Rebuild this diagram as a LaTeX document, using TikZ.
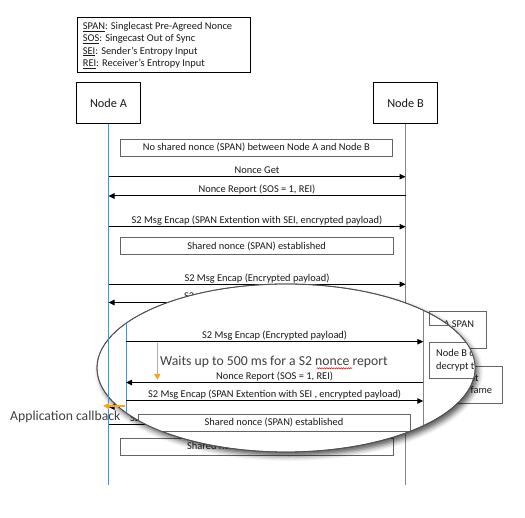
\documentclass[tikz,border=0pt]{standalone}
\usepackage{fontspec}
\setmainfont{Carlito}
\usetikzlibrary{arrows.meta,shadows.blur,decorations.pathmorphing}
\definecolor{lifeblue}{RGB}{91,140,205}
\definecolor{callout}{RGB}{245,165,30}
\definecolor{boxgray}{RGB}{100,100,100}
\definecolor{txt}{RGB}{25,25,25}
\definecolor{softtxt}{RGB}{64,64,64}
\definecolor{rimgray}{RGB}{80,80,80}
\tikzset{
 small/.style={font=\fontsize{10.4}{12.4}\selectfont, text=txt},
 actor/.style={draw=black, line width=1pt, fill=white, font=\fontsize{12.3}{14}\selectfont, text=txt, inner sep=0pt},
 life/.style={draw=lifeblue, line width=1pt},
 msg/.style={draw=black, line width=1pt, -{Triangle[length=6pt,width=5.5pt]}},
 lbl/.style={small, anchor=base, inner sep=0pt, yshift=3pt},
 notebox/.style={small, draw=boxgray, line width=0.8pt, inner sep=0pt},
 legendtext/.style={small, anchor=base west, inner sep=0pt},
 big/.style={font=\fontsize{13.7}{16}\selectfont, text=softtxt, anchor=base west, inner sep=0pt},
 hint/.style={draw=callout, line width=1.3pt, -{Triangle[length=6pt,width=6pt]}},
 rim/.style={draw=rimgray, line width=0.8pt},
}
\begin{document}
\begin{tikzpicture}[x=1pt,y=-1pt]
\useasboundingbox (0,0) rectangle (525,518);
% legend
\node[draw=black, line width=0.8pt, minimum width=173pt, minimum height=55pt, inner sep=0pt] (legend) at (163.5,44.5) {};
\node[legendtext] (l1) at (82.7,29.3) {\underline{SPAN}: Singlecast Pre-Agreed Nonce};
\node[legendtext] (l2) at (82.7,41.7) {\underline{SOS}: Singecast Out of Sync};
\node[legendtext] (l3) at (82.7,54.1) {\underline{SEI}: Sender’s Entropy Input};
\node[legendtext] (l4) at (82.7,66.5) {\underline{REI}: Receiver’s Entropy Input};
% actors
\node[actor, minimum width=64.7pt, minimum height=41.3pt] (A) at (108.5,103.3) {Node A};
\node[actor, minimum width=64.4pt, minimum height=41.3pt] (B) at (405.5,103.3) {Node B};
\coordinate (Aend) at (108.5,485);
\coordinate (Bend) at (405.5,485);
\draw[life] (A.south) -- (Aend);
\draw[life] (B.south) -- (Bend);
% upper part
\node[notebox, minimum width=272.7pt, minimum height=16.7pt] (nos) at (256.3,147.7) {No shared nonce (SPAN) between Node A and Node B};
\coordinate (a1) at (108.5,176.7); \coordinate (b1) at (405.5,176.7);
\coordinate (a2) at (108.5,196);   \coordinate (b2) at (405.5,196);
\coordinate (a3) at (108.5,226.7); \coordinate (b3) at (405.5,226.7);
\coordinate (a4) at (108.5,284.3); \coordinate (b4) at (405.5,284.3);
\coordinate (a5) at (108.5,302.5); \coordinate (b5) at (405.5,302.5);
\coordinate (a6) at (108.5,407);   \coordinate (b6) at (405.5,407);
\coordinate (a7) at (108.5,425);   \coordinate (b7) at (405.5,425);
\draw[msg] (a1) -- node[lbl] {Nonce Get} (b1);
\draw[msg] (b2) -- node[lbl] {Nonce Report (SOS = 1, REI)} (a2);
\draw[msg] (a3) -- node[lbl] {S2 Msg Encap (SPAN Extention with SEI, encrypted payload)} (b3);
\node[notebox, minimum width=273.3pt, minimum height=16.6pt] (sh1) at (256.6,246) {Shared nonce (SPAN) established};
\draw[msg] (a4) -- node[lbl] {S2 Msg Encap (Encrypted payload)} (b4);
\draw[msg] (b5) -- (a5);
\node[small, anchor=base west, inner sep=0pt] (s2a) at (184,299.5) {S2};
\draw[msg] (b6) -- (a6);
\draw[msg] (a7) -- (b7);
\node[small, anchor=base west, inner sep=0pt] (s2b) at (130,422) {S2};
\node[notebox, minimum width=273pt, minimum height=16.7pt] (sh2) at (256.5,446.7) {Shared nonce (SPAN) established};
% right-hand boxes
\node[notebox, minimum width=56.7pt, minimum height=37pt] (rb1) at (457.7,330.2) {};
\node[small, anchor=base west, inner sep=0pt] (rt1) at (443.3,327.3) {A SPAN};
\node[notebox, minimum width=60pt, minimum height=36.7pt] (rb3) at (472,384.7) {};
\node[small, anchor=base west, inner sep=0pt] (rt2) at (469.5,381.7) {pt};
\node[small, anchor=base west, inner sep=0pt] (rt3) at (470.5,393.3) {fame};
% magnifier
\path[fill=white, rim, blur shadow={shadow xshift=3pt, shadow yshift=-4pt, shadow blur radius=5pt, shadow opacity=65}] (286,368) ellipse [x radius=189pt, y radius=84pt];
\begin{scope}
\clip (286,368) ellipse [x radius=189pt, y radius=84pt];
\coordinate (Ct) at (126,270); \coordinate (Cb) at (126,470);
\coordinate (Dt) at (423.3,270); \coordinate (Db) at (423.3,470);
\draw[life] (Ct) -- (Cb);
\draw[life] (Dt) -- (Db);
\coordinate (c1) at (126,341.7); \coordinate (d1) at (423.3,341.7);
\coordinate (c2) at (126,382.5); \coordinate (d2) at (423.3,382.5);
\coordinate (c3) at (126,401);   \coordinate (d3) at (423.3,401);
\draw[msg] (c1) -- node[lbl] {S2 Msg Encap (Encrypted payload)} (d1);
\draw[msg] (d2) -- node[lbl] {Nonce Report (SOS = 1, REI)} (c2);
\draw[msg] (c3) -- node[lbl] {S2 Msg Encap (SPAN Extention with SEI , encrypted payload)} (d3);
\node[notebox, fill=white, minimum width=272pt, minimum height=17pt] (sh3) at (274,422.5) {Shared nonce (SPAN) established};
\node[notebox, fill=white, minimum width=60pt, minimum height=36pt] (nb) at (459.3,360.3) {};
\node[small, anchor=base west, inner sep=0pt] (nb1) at (436,356.7) {Node B c};
\node[small, anchor=base west, inner sep=0pt] (nb2) at (436,369.2) {decrypt t};
\node[notebox, minimum width=50pt, minimum height=55pt] (ub) at (454.3,297.5) {};
\end{scope}
\path[rim] (286,368) ellipse [x radius=189pt, y radius=84pt];
% outer lifeline A stays visible
\coordinate (Am) at (108.5,330);
\coordinate (An) at (108.5,405);
\draw[life] (Am) -- (An);
% overlay annotations
\coordinate (w1) at (157.3,343.5); \coordinate (w2) at (157.3,380);
\draw[hint] (w1) -- (w2);
\node[big] (wait) at (160,366) {Waits up to 500 ms for a S2 nonce report};
\coordinate (sq1) at (316.5,368.3); \coordinate (sq2) at (352,368.3);
\draw[red, line width=0.5pt, decorate, decoration={snake, amplitude=0.6pt, segment length=2.4pt}] (sq1) -- (sq2);
\coordinate (o1) at (125,406); \coordinate (o2) at (103,406);
\draw[hint] (o1) -- (o2);
\node[big] (cb) at (10,421) {Application callback};
\end{tikzpicture}
\end{document}
